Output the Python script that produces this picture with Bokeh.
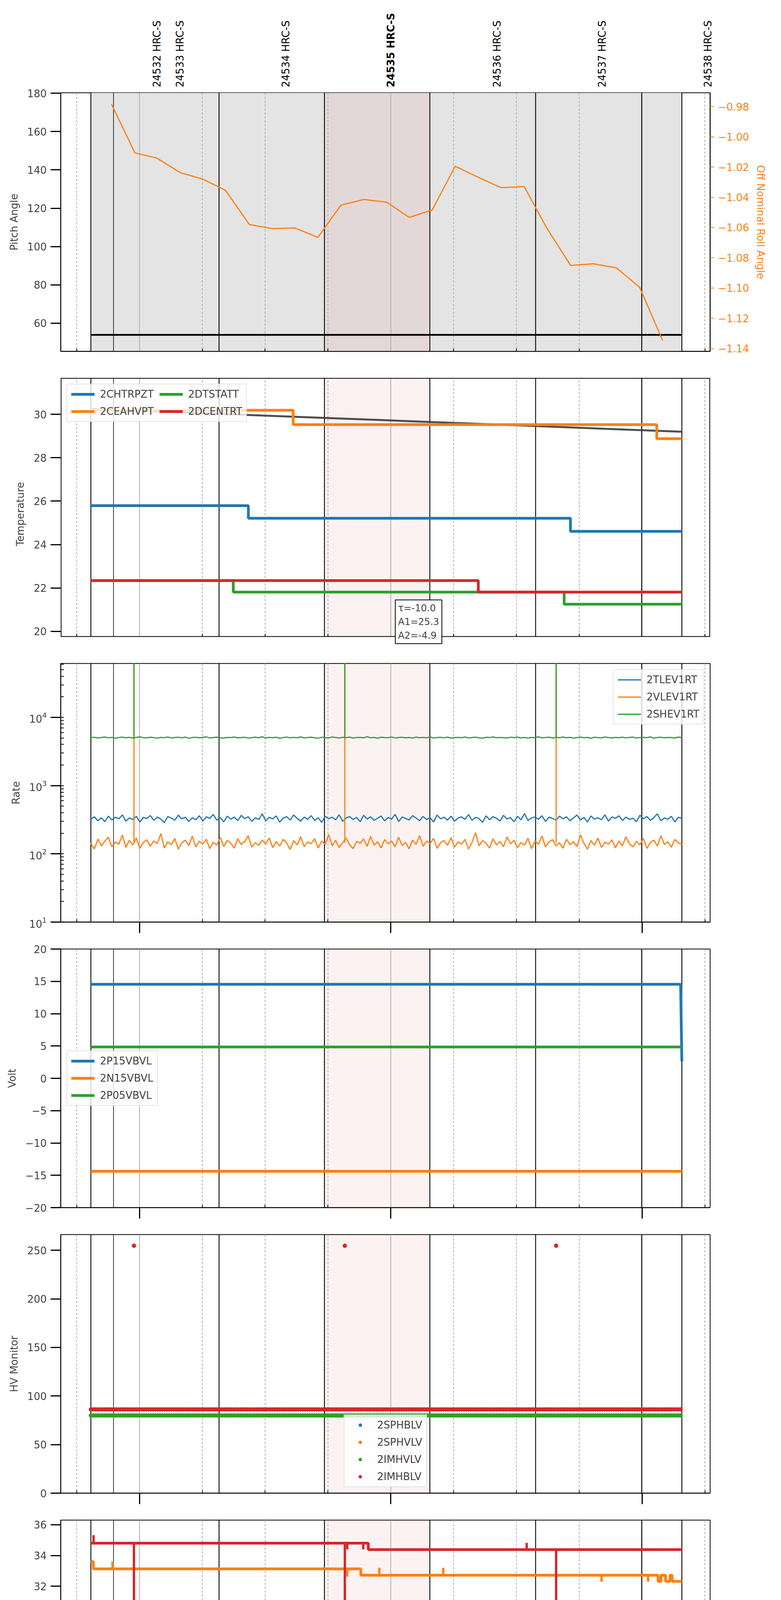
import numpy as np
import pandas as pd
from bokeh.plotting import figure
from bokeh.layouts import column
from bokeh.core.properties import value
from bokeh.models import (Range1d, LinearAxis, DatetimeAxis, FixedTicker, SingleIntervalTicker,
                          CustomJSTickFormatter, Span, BoxAnnotation, Label)
from bokeh.embed import file_html
from bokeh.resources import INLINE

DAY = "2021-04-04 "
FONT = "DejaVu Sans"
BLUE, ORANGE, GREEN, RED = "#1f77b4", "#ff7f0e", "#2ca02c", "#d62728"


def T(s):
    return pd.Timestamp(DAY + s)


def ms(s):
    return T(s).value / 1e6


## time layout
x_start, x_end = "12:41:12", "15:16:15"
data_start, data_end = "12:48:24", "15:09:30"
hour_ticks = ["13:00:00", "14:00:00", "15:00:00"]
quarter_ticks = ["12:45:00", "13:15:00", "13:30:00", "13:45:00", "14:15:00", "14:30:00", "14:45:00", "15:15:00"]
xlabel = "2021-04-04 (094)"

obsids = ["24532", "24533", "24534", "24535", "24536", "24537", "24538"]
obsid_label_times = ["13:04:11", "13:09:40", "13:34:57", "14:00:00", "14:25:25", "14:50:28", "15:15:45"]
current_obsid = "24535"
current_start, current_end = "13:44:10", "14:09:20"
obs_bounds = ["12:48:24", "12:53:48", "13:19:00", "13:44:10", "14:09:20", "14:34:35", "14:59:55", "15:09:30"]

## panel 1 : pitch / roll
pitch_t = ["12:48:24", "15:09:30"]
pitch_v = [53.9, 53.9]
roll_t = ["12:53:19", "12:58:56", "13:04:04", "13:09:54", "13:15:02", "13:20:31", "13:26:14",
          "13:31:44", "13:37:06", "13:42:35", "13:48:04", "13:53:34", "13:59:03", "14:04:25",
          "14:09:54", "14:15:23", "14:20:53", "14:26:22", "14:31:51", "14:37:13", "14:42:57",
          "14:48:26", "14:53:55", "14:59:25", "15:04:54"]
roll_v = [-0.9784, -1.0107, -1.0140, -1.0239, -1.0279, -1.0353, -1.0580, -1.0607, -1.0603,
          -1.0666, -1.0453, -1.0414, -1.0433, -1.0533, -1.0484, -1.0195, -1.0268, -1.0337,
          -1.0329, -1.0602, -1.0851, -1.0840, -1.0867, -1.0995, -1.1346]
roll_ticks = [-1.14, -1.12, -1.10, -1.08, -1.06, -1.04, -1.02, -1.00, -0.98]

## panel 2 : temperatures (step series)
chtrpzt_t = ["12:48:24", "13:26:00", "14:42:54"]
chtrpzt_v = [25.79, 25.21, 24.61]
ceahvpt_t = ["12:48:24", "13:36:42", "15:03:30"]
ceahvpt_v = [30.19, 29.53, 28.88]
dtstatt_t = ["12:48:24", "13:22:24", "14:41:24"]
dtstatt_v = [22.34, 21.81, 21.25]
dcentrt_t = ["12:48:24", "14:20:54"]
dcentrt_v = [22.34, 21.81]
fit_t = ["12:48:24", "14:00:00", "15:09:30"]
fit_v = [30.25, 29.72, 29.20]
fit_text = "\u03c4=-10.0\nA1=25.3\nA2=-4.9"

## panel 3 : rates
tlev1rt = [321, 349, 305, 338, 296, 357, 314, 343, 327, 372, 301, 336, 318, 354, 292, 341, 329,
           364, 309, 346, 323, 287, 352, 335, 311, 369, 326, 344, 298, 339, 316, 361, 303, 348,
           331, 377, 312, 340, 294, 357, 322, 345, 307, 366, 328, 351, 299, 337, 319, 385, 306,
           343, 325, 359, 291, 334, 350, 313, 371, 330, 302, 346, 320, 363, 308, 338, 289, 355,
           327, 344, 315, 373, 300, 336, 352, 318, 342, 296, 367, 324, 349, 310, 333, 358, 304,
           341, 322, 380, 297, 347, 329, 314, 362, 335, 306, 353, 319, 339, 293, 370, 326, 345,
           312, 357, 301, 334, 348, 321, 376, 309, 343, 328, 290, 360, 317, 350, 332, 303, 366,
           324, 340, 295, 354, 315, 388, 307, 337, 346, 320, 362, 298, 344, 330, 311, 357, 326,
           349, 305, 335, 371, 314, 342, 292, 359, 323, 338, 316, 374, 302, 347, 331, 361, 308,
           345, 319, 333, 296, 367, 327, 352, 310, 340, 386, 304, 336, 321, 355, 293, 344, 329]
vlev1rt = [142, 118, 165, 131, 153, 176, 127, 149, 138, 189, 124, 158, 135, 171, 120, 147, 161,
           129, 155, 141, 198, 122, 150, 136, 168, 117, 145, 159, 132, 182, 126, 153, 140, 164,
           119, 148, 134, 174, 128, 157, 143, 121, 166, 137, 152, 185, 125, 146, 133, 160, 139,
           172, 123, 151, 130, 163, 144, 116, 156, 135, 179, 127, 149, 141, 167, 121, 154, 138,
           192, 131, 158, 124, 146, 170, 136, 119, 152, 143, 165, 128, 181, 134, 150, 122, 162,
           140, 155, 126, 175, 132, 147, 118, 159, 137, 186, 129, 153, 142, 168, 120, 145, 157,
           133, 173, 125, 150, 139, 163, 117, 148, 204, 131, 156, 144, 121, 166, 135, 152, 127,
           177, 140, 158, 123, 146, 134, 169, 119, 154, 138, 183, 126, 149, 162, 130, 145, 121,
           164, 136, 151, 128, 190, 143, 117, 157, 133, 171, 124, 148, 139, 160, 122, 155, 131,
           178, 141, 126, 153, 135, 167, 120, 147, 159, 130, 184, 137, 150, 125, 163, 144, 138]
shev1rt = [5030, 5110, 4980, 5070, 5150, 5010, 5090, 4950, 5060, 5130, 5020, 5100, 4970, 5080, 5190, 5040, 5000,
           5120, 5050, 4960, 5090, 5030, 5160, 4990, 5070, 5110, 5010, 5140, 4940, 5060, 5100, 5020, 5080, 5180,
           4990, 5060, 5120, 5030, 4970, 5090, 5050, 5150, 5000, 5070, 5110, 4960, 5040, 5130, 5020, 5200, 4980,
           5080, 5040, 5100, 4950, 5060, 5140, 5010, 5090, 5030, 5170, 4990, 5070, 5120, 5020, 4960, 5110, 5050,
           5000, 5150, 5070, 4980, 5100, 5040, 5130, 4970, 5060, 5090, 5020, 5210, 5010, 5080, 4940, 5120, 5050,
           5030, 5160, 4990, 5070, 5110, 5000, 5090, 4960, 5140, 5040, 5080, 5020, 5180, 4980, 5060, 5100, 5010,
           5130, 4970, 5050, 5090, 5030, 5150, 4990, 5070, 5120, 5010, 4950, 5100, 5060, 5170, 5020, 5080, 5040,
           4980, 5110, 5050, 5140, 5000, 5070, 4960, 5090, 5030, 5190, 5010, 5060, 5120, 4990, 5080, 5040, 5150,
           5020, 5100, 4970, 5060, 5130, 5030, 5080, 4940, 5110, 5050, 5000, 5160, 5070, 4990, 5090, 5040, 5120,
           5010, 5080, 5140, 4980, 5060, 5100, 5030, 5170, 4960, 5070, 5110, 5020, 5090, 5050, 4990, 5130, 5060]
rate_spike_t = ["12:58:41", "13:49:02", "14:39:29"]
vlev1rt_spike_base, shev1rt_spike_base, rate_spike_peak = 145, 5050, 1e5

## panel 4 : voltages
p15vbvl_t = ["12:48:24", "15:09:12", "15:09:30"]
p15vbvl_v = [14.54, 14.54, 2.62]
n15vbvl_t = ["12:48:24", "15:09:30"]
n15vbvl_v = [-14.38, -14.38]
p05vbvl_t = ["12:48:24", "15:09:30"]
p05vbvl_v = [4.85, 4.85]

## panel 5 : HV monitors (33 s samples)
hv_sample = "33s"
sphblv_level = -50.0   # off scale, not visible
sphvlv_level = -50.0   # off scale, not visible
imhvlv_level = 80.0
imhblv_level = 86.3
imhblv_out_t = ["12:58:41", "13:49:02", "14:39:29"]
imhblv_out_v = [254.7, 254.7, 254.7]

## panel 6 : detector temperatures
spinatm_t = ["12:48:24", "13:58:05", "13:58:25", "13:59:24", "13:59:55", "14:00:25", "14:00:55",
             "14:01:25", "14:01:55", "14:02:23"]
spinatm_v = [21.69, 20.98, 21.69, 20.98, 21.69, 20.98, 21.69, 20.98, 21.69, 20.98]
sphvatm_t = ["12:48:24", "12:49:00", "13:52:51", "15:03:49", "15:04:30", "15:05:37", "15:06:40", "15:07:10"]
sphvatm_v = [33.60, 33.13, 32.72, 32.32, 32.72, 32.32, 32.72, 32.32]
sphvatm_spk_t = ["12:53:34", "13:49:37", "13:57:16", "14:12:32", "14:50:20", "15:01:26"]
sphvatm_spk_v = [33.60, 32.62, 33.20, 33.20, 32.30, 32.30]
iminatm_t = ["12:48:24", "13:50:28", "13:51:00", "13:51:40", "13:52:10", "13:52:29"]
iminatm_v = [22.41, 21.69, 22.41, 21.69, 22.41, 21.69]
imhvatm_t = ["12:48:24", "13:54:38"]
imhvatm_v = [34.80, 34.38]
imhvatm_spk_t = ["12:49:02", "12:58:41", "13:49:02", "13:49:37", "13:53:26", "14:32:27", "14:39:29"]
imhvatm_spk_v = [35.32, 0.0, 0.0, 34.40, 34.40, 34.82, 0.0]

## panel 7 : FEA temperatures
fhtrmzt_t = ["12:48:24", "13:31:08", "14:43:54"]
fhtrmzt_v = [23.48, 22.91, 22.39]
fradpyt_t = ["12:48:24", "13:01:11", "14:08:57"]
fradpyt_v = [18.15, 17.65, 17.16]
fepratm_t = ["12:48:24", "13:14:05", "15:03:14", "15:03:40", "15:04:50", "15:05:15", "15:05:37"]
fepratm_v = [25.39, 24.63, 23.88, 24.63, 23.88, 24.63, 23.88]
fepratm_spk_t = ["12:58:41", "13:49:02", "14:39:29"]
fepratm_spk_v = [23.03, 22.90, 22.90]
fe00atm_t = ["12:48:24", "12:54:59", "12:55:30", "12:56:10", "12:56:40", "12:57:01", "13:44:30",
             "13:44:50", "13:45:10", "14:37:35", "14:38:00", "14:38:30"]
fe00atm_v = [23.30, 22.99, 23.30, 22.99, 23.30, 22.99, 22.66, 22.99, 22.66, 22.35, 22.66, 22.35]
fe00atm_spk_t = ["12:55:10", "12:58:41", "12:59:46", "13:06:26", "13:08:28", "13:09:40", "13:11:56",
                 "13:14:05", "13:19:55", "13:23:08", "13:31:37", "13:45:56", "13:47:36", "13:49:02",
                 "14:09:26", "14:14:55", "14:15:52", "14:17:04", "14:23:44", "14:28:31", "14:32:05",
                 "14:35:11", "14:39:29", "14:43:54", "14:44:30"]
fe00atm_spk_v = [22.60, 0.0, 23.30, 22.60, 24.00, 22.30, 22.60, 22.60, 21.70, 22.60, 23.65, 23.00,
                 23.00, 0.0, 23.00, 23.65, 21.70, 23.35, 21.70, 21.70, 23.00, 21.05, 0.0, 21.70, 23.00]


## helpers

FW, FH = 1663, 662
BL, BR = 155, 166
x_rng = Range1d(T(x_start), T(x_end))
EMPTY = CustomJSTickFormatter(code="return '';")
HOURS = CustomJSTickFormatter(code="return new Date(tick).getUTCHours() + 'h';")
MINUTES = CustomJSTickFormatter(code="return String(new Date(tick).getUTCMinutes());")


def step_xy(times, levels):
    xs = [T(t) for t in times] + [T(data_end)]
    ys = list(levels) + [levels[-1]]
    return xs, ys


def level_at(times, levels, t):
    lv = levels[0]
    for tt, v in zip(times, levels):
        if T(tt) <= T(t):
            lv = v
    return lv


def draw_step(p, times, levels, color, label, width=7):
    xs, ys = step_xy(times, levels)
    p.step(xs, ys, mode="after", line_color=color, line_width=width, legend_label=label)


def draw_spikes(p, times, peaks, base, color, width=6):
    xs = [T(t) for t in times]
    p.segment(x0=xs, y0=base, x1=xs, y1=peaks, line_color=color, line_width=width)


def minus_fmt(dec):
    return CustomJSTickFormatter(
        code="return (tick < 0 ? '\\u2212' : '') + Math.abs(tick).toFixed(%d);" % dec)


def make_fig(y_range, ylabel, top=34, bottom=35, fh=FH, y_axis_type="linear", y_interval=None,
             x_major=True, with_xaxis=True):
    p = figure(x_range=x_rng, y_range=y_range, x_axis_type="datetime", y_axis_type=y_axis_type,
               x_axis_location="below" if with_xaxis else None,
               frame_width=FW, frame_height=fh, min_border_left=BL, min_border_right=BR,
               min_border_top=top, min_border_bottom=bottom, toolbar_location=None,
               output_backend="svg", background_fill_color="white", border_fill_color="white")
    p.xgrid.visible = False
    p.ygrid.visible = False
    p.outline_line_color = "black"
    p.outline_line_width = 2

    if with_xaxis:
        ax = p.xaxis[0]
        ax.ticker = FixedTicker(ticks=[ms(h) for h in hour_ticks],
                                minor_ticks=[ms(q) for q in quarter_ticks])
        ax.formatter = EMPTY
        ax.major_tick_out = 28 if x_major else 0
        ax.major_tick_in = 0
        ax.major_tick_line_width = 3
        ax.minor_tick_in = 7
        ax.minor_tick_out = 0
        ax.minor_tick_line_width = 2
        ax.axis_line_width = 2
        ax.major_label_standoff = 0
        ax.major_label_text_font = FONT

    ay = p.yaxis[0]
    if y_interval is not None:
        ay.ticker = SingleIntervalTicker(interval=y_interval, num_minor_ticks=0)
        ay.formatter = minus_fmt(0)
    ay.axis_label = ylabel
    ay.axis_label_text_font = FONT
    ay.axis_label_text_font_size = "26px"
    ay.axis_label_text_font_style = "normal"
    ay.axis_label_standoff = 16
    ay.major_label_text_font = FONT
    ay.major_label_text_font_size = "26px"
    ay.major_label_standoff = 10
    ay.major_tick_out = 26
    ay.major_tick_in = 0
    ay.major_tick_line_width = 3
    ay.axis_line_width = 2
    if y_axis_type == "log":
        ay.minor_tick_in = 8
        ay.minor_tick_out = 0
        ay.minor_tick_line_width = 2
    else:
        ay.minor_tick_line_color = None
    return p


def add_guides(p, gray_bg=False, y0=None, y1=None):
    # shaded spans and vertical reference lines; y0/y1 limit them to the visual panel
    if gray_bg:
        p.add_layout(BoxAnnotation(left=ms(data_start), right=ms(data_end), fill_color="#e4e4e4",
                                   fill_alpha=1.0, line_color=None, level="underlay"))
    p.add_layout(BoxAnnotation(left=ms(current_start), right=ms(current_end), bottom=y0,
                               fill_color=RED, fill_alpha=0.06, line_color=None, level="underlay"))
    lines = ([(q, "#b0b0b0", "6 4", 2) for q in quarter_ticks] +
             [(h, "#b0b0b0", "solid", 2) for h in hour_ticks] +
             [(b, "black", "solid", 1.5 if i == 1 else 2.2) for i, b in enumerate(obs_bounds)])
    for t, color, dash, width in lines:
        if y0 is None:
            p.add_layout(Span(location=ms(t), dimension="height", line_color=color,
                              line_dash=dash, line_width=width, level="underlay"))
        else:
            p.segment(x0=[T(t)], y0=[y0], x1=[T(t)], y1=[y1], line_color=color,
                      line_dash=dash, line_width=width, level="underlay")


def style_legend(p, loc, ncols=1):
    lg = p.legend[0]
    lg.location = loc
    lg.margin = 15
    lg.label_text_font = FONT
    lg.label_text_font_size = "26px"
    lg.glyph_width = 60
    lg.glyph_height = 22
    lg.label_height = 22
    lg.spacing = 14
    lg.padding = 10
    lg.label_standoff = 14
    lg.border_line_color = "#cccccc"
    lg.border_line_width = 2
    lg.background_fill_alpha = 0.8
    if ncols > 1:
        lg.ncols = ncols


## Header with the obsid names (a bit wider on the right so the last name fits)
extra_px = 40
sec_per_px = (T(x_end) - T(x_start)).total_seconds() / FW
hdr = figure(x_range=Range1d(T(x_start), T(x_end) + pd.Timedelta(seconds=extra_px * sec_per_px)),
             y_range=Range1d(0, 1), x_axis_type=None, y_axis_type=None,
             frame_width=FW + extra_px, frame_height=223, min_border_left=BL,
             min_border_right=BR - extra_px, min_border_top=0, min_border_bottom=0,
             toolbar_location=None, output_backend="svg", border_fill_color="white")
hdr.outline_line_color = None
hdr.xgrid.visible = False
hdr.ygrid.visible = False
for bold in (False, True):
    sel = [(o, t) for o, t in zip(obsids, obsid_label_times) if (o == current_obsid) == bold]
    hdr.text(x=[T(t) for o, t in sel], y=[0] * len(sel), text=[o + " HRC-S" for o, t in sel],
             angle=np.pi / 2, text_align="left", text_baseline="middle",
             text_font=value(FONT), text_font_size=value("26px"),
             text_font_style=value("bold" if bold else "normal"), text_color="black")

## Panel 1 : pitch and roll
p1 = make_fig(Range1d(45.3, 180.25), "Pitch Angle", top=14, bottom=34, y_interval=20, x_major=False)
add_guides(p1, gray_bg=True)
p1.line([T(t) for t in pitch_t], pitch_v, line_color="black", line_width=4.5)
p1.extra_y_ranges = {"roll": Range1d(-1.1419, -0.9709)}
p1.line([T(t) for t in roll_t], roll_v, y_range_name="roll", line_color=ORANGE, line_width=3)
ax_r = LinearAxis(y_range_name="roll", axis_label="Off Nominal Roll Angle",
                  ticker=FixedTicker(ticks=roll_ticks), formatter=minus_fmt(2))
ax_r.axis_label_text_color = ORANGE
ax_r.axis_label_text_font = FONT
ax_r.axis_label_text_font_size = "26px"
ax_r.axis_label_text_font_style = "normal"
ax_r.axis_label_standoff = 12
ax_r.major_label_text_color = ORANGE
ax_r.major_label_text_font = FONT
ax_r.major_label_text_font_size = "26px"
ax_r.major_label_standoff = 10
ax_r.major_tick_line_color = ORANGE
ax_r.major_tick_line_width = 2
ax_r.major_tick_out = 10
ax_r.major_tick_in = 0
ax_r.minor_tick_line_color = None
ax_r.axis_line_width = 2
p1.add_layout(ax_r, "right")

## Panel 2 : temperatures (frame runs into the gap so the fit box can hang below)
t_lo, t_hi = 19.76, 31.68
t_px = FH / (t_hi - t_lo)
p2 = make_fig(Range1d(t_lo - 35 / t_px, t_hi), "Temperature", bottom=0, fh=FH + 35,
              y_interval=2, with_xaxis=False)
p2.outline_line_color = None
p2.yaxis[0].axis_line_color = None
add_guides(p2, y0=t_lo, y1=t_hi)
p2.segment(x0=[T(x_start), T(x_end), T(x_start), T(x_start)], y0=[t_lo, t_lo, t_hi, t_lo],
           x1=[T(x_start), T(x_end), T(x_end), T(x_end)], y1=[t_hi, t_hi, t_hi, t_lo],
           line_color="black", line_width=[4, 4, 4, 2])
p2.segment(x0=[T(q) for q in quarter_ticks], y0=[t_lo] * len(quarter_ticks),
           x1=[T(q) for q in quarter_ticks], y1=[t_lo + 7 / t_px] * len(quarter_ticks),
           line_color="black", line_width=2)
p2.line([T(t) for t in fit_t], fit_v, line_color="#3a3a3a", line_alpha=0.9, line_width=5)
draw_step(p2, chtrpzt_t, chtrpzt_v, BLUE, "2CHTRPZT")
draw_step(p2, ceahvpt_t, ceahvpt_v, ORANGE, "2CEAHVPT")
draw_step(p2, dtstatt_t, dtstatt_v, GREEN, "2DTSTATT")
draw_step(p2, dcentrt_t, dcentrt_v, RED, "2DCENTRT")
style_legend(p2, "top_left", ncols=2)
p2.add_layout(Label(x=ms("14:01:05"), y=21.45, text=fit_text, text_align="left",
                    text_baseline="top", text_font=FONT, text_font_size="24px",
                    text_line_height=1.25, border_line_color="black", border_line_width=2,
                    background_fill_color="white", padding=7))

## Panel 3 : rates
p3 = make_fig(Range1d(10, 61600), "Rate", y_axis_type="log")
add_guides(p3)
for vals, color, name, base in [(tlev1rt, BLUE, "2TLEV1RT", None),
                                (vlev1rt, ORANGE, "2VLEV1RT", vlev1rt_spike_base),
                                (shev1rt, GREEN, "2SHEV1RT", shev1rt_spike_base)]:
    tt = pd.date_range(T(data_start), T(data_end), periods=len(vals))
    p3.line(tt, vals, line_color=color, line_width=3, legend_label=name)
    if base is not None:
        draw_spikes(p3, rate_spike_t, [rate_spike_peak] * len(rate_spike_t), base, color, width=3)
style_legend(p3, "top_right")

## Panel 4 : voltages
p4 = make_fig(Range1d(-20, 20), "Volt", y_interval=5)
add_guides(p4)
p4.line([T(t) for t in p15vbvl_t], p15vbvl_v, line_color=BLUE, line_width=7, legend_label="2P15VBVL")
p4.line([T(t) for t in n15vbvl_t], n15vbvl_v, line_color=ORANGE, line_width=7, legend_label="2N15VBVL")
p4.line([T(t) for t in p05vbvl_t], p05vbvl_v, line_color=GREEN, line_width=7, legend_label="2P05VBVL")
style_legend(p4, "center_left")

## Panel 5 : HV monitor
p5 = make_fig(Range1d(0, 266.2), "HV Monitor", y_interval=50)
add_guides(p5)
hv_t = list(pd.date_range(T(data_start), T(data_end), freq=hv_sample))
p5.scatter(x=[T(data_start)], y=[sphblv_level], marker="circle", size=11, color=BLUE,
           line_color=None, legend_label="2SPHBLV")
p5.scatter(x=[T(data_start)], y=[sphvlv_level], marker="circle", size=11, color=ORANGE,
           line_color=None, legend_label="2SPHVLV")
p5.scatter(x=hv_t, y=[imhvlv_level] * len(hv_t), marker="circle", size=11, color=GREEN,
           line_color=None, legend_label="2IMHVLV")
p5.scatter(x=hv_t + [T(t) for t in imhblv_out_t], y=[imhblv_level] * len(hv_t) + imhblv_out_v,
           marker="circle", size=11, color=RED, line_color=None, legend_label="2IMHBLV")
style_legend(p5, "bottom_center")

## Panel 6 : detector temperatures
p6 = make_fig(Range1d(19.49, 36.30), "Detector Temp", y_interval=2)
add_guides(p6)
draw_step(p6, spinatm_t, spinatm_v, BLUE, "2SPINATM")
draw_step(p6, sphvatm_t, sphvatm_v, ORANGE, "2SPHVATM")
draw_spikes(p6, sphvatm_spk_t, sphvatm_spk_v,
            [level_at(sphvatm_t, sphvatm_v, t) for t in sphvatm_spk_t], ORANGE)
draw_step(p6, iminatm_t, iminatm_v, GREEN, "2IMINATM")
draw_step(p6, imhvatm_t, imhvatm_v, RED, "2IMHVATM")
draw_spikes(p6, imhvatm_spk_t, imhvatm_spk_v,
            [level_at(imhvatm_t, imhvatm_v, t) for t in imhvatm_spk_t], RED)
style_legend(p6, "center_right")

## Panel 7 : FEA temperatures
p7 = make_fig(Range1d(15.65, 26.13), "FEA Temp", bottom=95, y_interval=2)
add_guides(p7)
draw_step(p7, fhtrmzt_t, fhtrmzt_v, BLUE, "2FHTRMZT")
draw_step(p7, fradpyt_t, fradpyt_v, ORANGE, "2FRADPYT")
draw_step(p7, fepratm_t, fepratm_v, GREEN, "2FEPRATM")
draw_spikes(p7, fepratm_spk_t, fepratm_spk_v,
            [level_at(fepratm_t, fepratm_v, t) for t in fepratm_spk_t], GREEN)
draw_step(p7, fe00atm_t, fe00atm_v, RED, "2FE00ATM")
draw_spikes(p7, fe00atm_spk_t, fe00atm_spk_v,
            [level_at(fe00atm_t, fe00atm_v, t) for t in fe00atm_spk_t], RED)
style_legend(p7, "center_right")

# first axis: quarter-hour labels next to the frame
ax_q = p7.xaxis[0]
ax_q.ticker = FixedTicker(ticks=[ms(q) for q in quarter_ticks], minor_ticks=[])
ax_q.formatter = MINUTES
ax_q.major_tick_in = 7
ax_q.major_tick_out = 0
ax_q.major_tick_line_width = 2
ax_q.major_label_standoff = 4
ax_q.major_label_text_font_size = "19px"

# second axis: hours, its ticks reach back up to the frame
ax_h = DatetimeAxis(ticker=FixedTicker(ticks=[ms(h) for h in hour_ticks], minor_ticks=[]),
                    formatter=HOURS, axis_label=xlabel)
ax_h.axis_line_color = None
ax_h.major_tick_in = 27
ax_h.major_tick_out = 2
ax_h.major_tick_line_width = 3
ax_h.minor_tick_line_color = None
ax_h.major_label_standoff = 4
ax_h.major_label_text_font = FONT
ax_h.major_label_text_font_size = "27px"
ax_h.axis_label_text_font = FONT
ax_h.axis_label_text_font_size = "30px"
ax_h.axis_label_text_font_style = "normal"
ax_h.axis_label_standoff = 6
p7.add_layout(ax_h, "below")

layout = column(hdr, p1, p2, p3, p4, p5, p6, p7, spacing=0)

open("out.html", "w").write(file_html(layout, INLINE))
